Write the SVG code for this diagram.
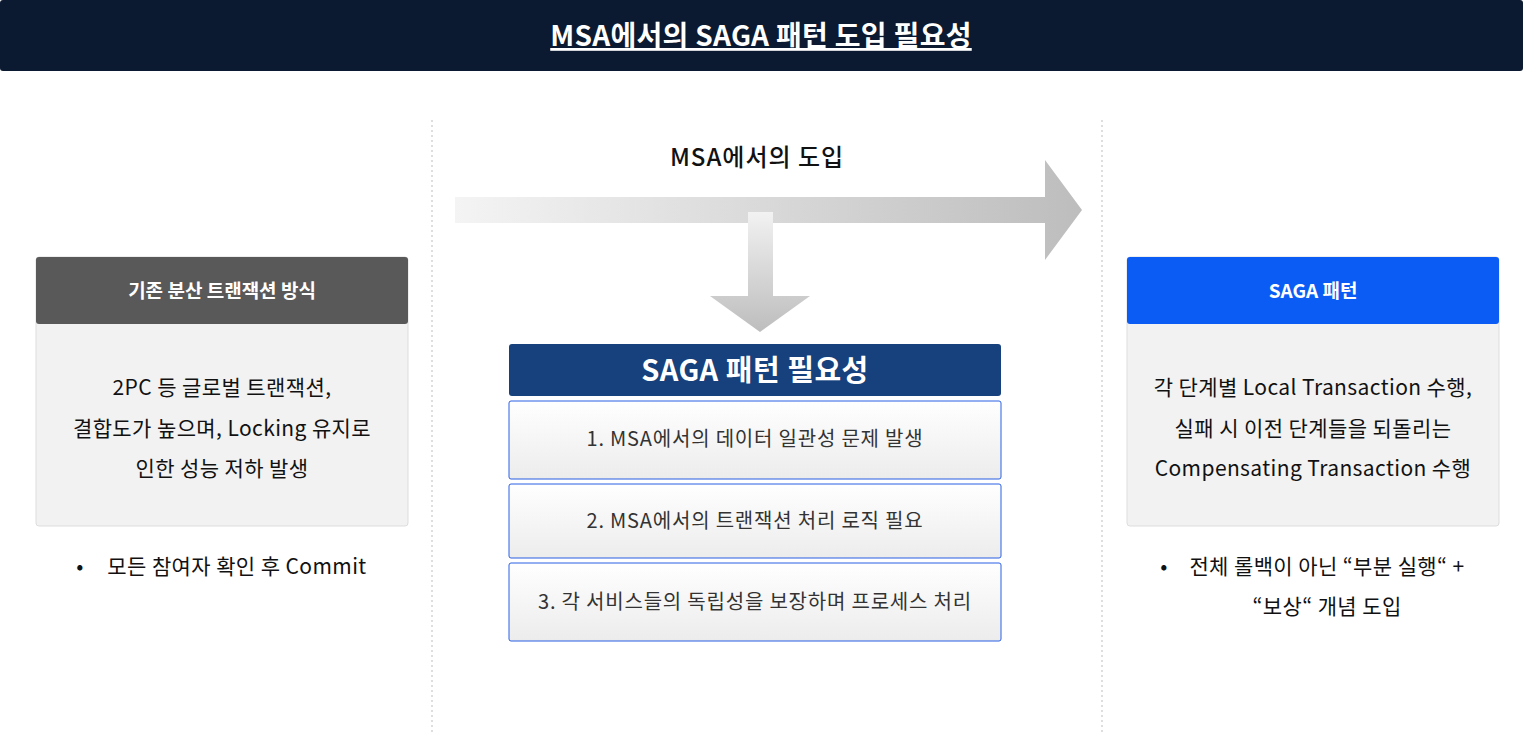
<svg xmlns="http://www.w3.org/2000/svg" width="1523" height="733" viewBox="0 0 1523 733">
<style>
text{font-family:"Noto Sans CJK KR","Noto Sans",sans-serif;text-anchor:middle}
.b{font-size:21px;fill:#111;letter-spacing:0.4px}
.i{font-size:20px;fill:#333;letter-spacing:0.8px}
.h{font-size:19px;font-weight:bold;fill:#fff}
.sep{stroke:#c8c8c8;stroke-dasharray:2 3;stroke-width:1.2}
.item{fill:url(#ig);stroke:#2a5fe6;stroke-width:1}
</style>
<defs>
<linearGradient id="hg" x1="0" x2="1"><stop offset="0" stop-color="#f4f4f4"/><stop offset="1" stop-color="#bdbdbd"/></linearGradient>
<linearGradient id="vg" x1="0" y1="0" x2="0" y2="1"><stop offset="0" stop-color="#f2f2f2"/><stop offset="1" stop-color="#bdbdbd"/></linearGradient>
<linearGradient id="ig" x1="0" y1="0" x2="0" y2="1"><stop offset="0" stop-color="#ffffff"/><stop offset="1" stop-color="#ececec"/></linearGradient>
</defs>
<rect width="1523" height="733" fill="#fff"/>
<g id="title"><rect x="0" y="0" width="1523" height="71" rx="3" fill="#0b1a30"/>
<text x="761" y="46" style="font-size:28px;font-weight:bold;fill:#fff;text-decoration:underline;letter-spacing:0.3px">MSA에서의 SAGA 패턴 도입 필요성</text></g>
<g id="separators"><line class="sep" x1="432" y1="120" x2="432" y2="733"/><line class="sep" x1="1102" y1="120" x2="1102" y2="733"/></g>
<g id="connectors">
<polygon points="455,197 1045,197 1045,160 1082,210 1045,260 1045,223 455,223" fill="url(#hg)"/>
<polygon points="748,212 773,212 773,296 810,296 760,332 710,296 748,296" fill="url(#vg)"/>
</g>
<text x="757" y="166" style="font-size:24px;font-weight:500;fill:#111;letter-spacing:1px">MSA에서의 도입</text>
<g id="legacy">
<rect x="36" y="257" width="372" height="269" rx="3" fill="#f2f2f2" stroke="#ddd"/>
<rect x="36" y="257" width="372" height="67" rx="3" fill="#595959"/>
<text class="h" x="222" y="298">기존 분산 트랜잭션 방식</text>
<text class="b" x="222" y="395">2PC 등 글로벌 트랜잭션,</text>
<text class="b" x="222" y="436">결합도가 높으며, Locking 유지로</text>
<text class="b" x="222" y="476">인한 성능 저하 발생</text>
</g>
<g id="legacy-note"><text class="b" x="80" y="574">•</text><text class="b" x="237" y="574">모든 참여자 확인 후 Commit</text></g>
<g id="saga-need">
<rect x="509" y="344" width="492" height="52" rx="3" fill="#16417c"/>
<text x="755" y="381" style="font-size:29px;font-weight:bold;fill:#fff;letter-spacing:0.5px">SAGA 패턴 필요성</text>
</g>
<g id="item1"><rect class="item" x="509" y="401" width="492" height="78" rx="2"/><text class="i" x="755" y="446">1. MSA에서의 데이터 일관성 문제 발생</text></g>
<g id="item2"><rect class="item" x="509" y="484" width="492" height="74" rx="2"/><text class="i" x="755" y="528">2. MSA에서의 트랜잭션 처리 로직 필요</text></g>
<g id="item3"><rect class="item" x="509" y="563" width="492" height="78" rx="2"/><text class="i" x="755" y="609">3. 각 서비스들의 독립성을 보장하며 프로세스 처리</text></g>
<g id="saga">
<rect x="1127" y="257" width="372" height="269" rx="3" fill="#f2f2f2" stroke="#ddd"/>
<rect x="1127" y="257" width="372" height="67" rx="3" fill="#0a5cf5"/>
<text class="h" x="1313" y="298">SAGA 패턴</text>
<text class="b" x="1313" y="395">각 단계별 Local Transaction 수행,</text>
<text class="b" x="1313" y="436">실패 시 이전 단계들을 되돌리는</text>
<text class="b" x="1313" y="476">Compensating Transaction 수행</text>
</g>
<g id="saga-note"><text class="b" x="1164" y="574">•</text><text class="b" x="1327" y="574">전체 롤백이 아닌 “부분 실행“ +</text><text class="b" x="1327" y="614">“보상“ 개념 도입</text></g>
</svg>
